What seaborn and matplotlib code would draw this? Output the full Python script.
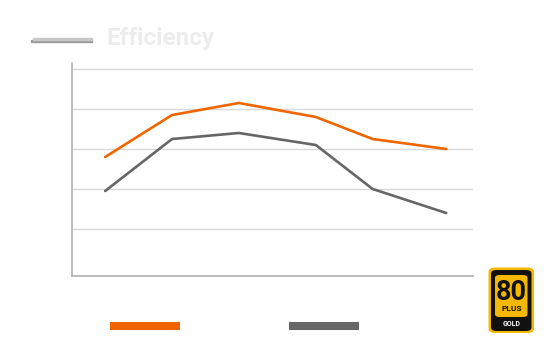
import matplotlib.pyplot as plt
import pandas as pd
import seaborn as sns
from matplotlib.patches import FancyBboxPatch, Rectangle
from matplotlib.lines import Line2D

# load points (arbitrary units) and efficiency (%)
load = [10, 30, 50, 73, 90, 112]
eff_orange = [87.6, 89.7, 90.3, 89.6, 88.5, 88.0]
eff_gray = [85.9, 88.5, 88.8, 88.2, 86.0, 84.8]
series = ["A", "B"]
colors = ["#ef6600", "#666666"]
grid_vals = [84, 86, 88, 90, 92]

df = pd.DataFrame({
    "load": load * 2,
    "eff": eff_orange + eff_gray,
    "series": [series[0]] * len(load) + [series[1]] * len(load),
})

sns.set_style("white")
fig = plt.figure(figsize=(5.5, 3.6), dpi=100)
ax = fig.add_axes([0.1304, 0.2333, 0.7296, 0.5917])

for v in grid_vals:
    ax.axhline(v, color="#d9d9d9", lw=1, zorder=0)

sns.lineplot(data=df, x="load", y="eff", hue="series", palette=colors,
             linewidth=1.9, legend=False, ax=ax)

ax.set_xlim(0, 120)
ax.set_ylim(81.65, 92.3)
ax.set_xticks([])
ax.set_yticks([])
ax.set_xlabel("")
ax.set_ylabel("")
for s in ["top", "right"]:
    ax.spines[s].set_visible(False)
for s in ["left", "bottom"]:
    ax.spines[s].set_color("#b0b0b0")
    ax.spines[s].set_linewidth(1.2)

# legend bars without text
handles = [Line2D([], [], color=c, lw=5.8, solid_capstyle="butt") for c in colors]
fig.legend(handles, ["", ""], loc="center", bbox_to_anchor=(0.4264, 0.091),
           ncol=2, frameon=False, handlelength=5.04, columnspacing=7.85,
           handletextpad=0)

# title with decorative bar
fig.text(106 / 550, 1 - 39 / 360, "Efficiency", fontsize=17.5, fontweight="bold",
         color="#ececec", va="center", ha="left", family="Roboto")
fig.patches.append(Rectangle((31 / 550, 1 - 42 / 360), 61 / 550, 2 / 360,
                             transform=fig.transFigure, color="#9a9a9a"))
fig.patches.append(Rectangle((33 / 550, 1 - 40 / 360), 59 / 550, 2.5 / 360,
                             transform=fig.transFigure, color="#c8c8c8"))

# 80 PLUS GOLD badge
def px(x, y):
    return x / 550, 1 - y / 360

gold = "#f4b800"
x0, y0 = px(488.5, 333)
fig.patches.append(FancyBboxPatch((x0, y0), 45.5 / 550, 65.5 / 360,
                                  boxstyle="round,pad=0,rounding_size=0.012",
                                  transform=fig.transFigure, fc=gold, ec="none"))
x0, y0 = px(491, 331)
fig.patches.append(FancyBboxPatch((x0, y0), 40.5 / 550, 61 / 360,
                                  boxstyle="round,pad=0,rounding_size=0.01",
                                  transform=fig.transFigure, fc="#111111", ec="none"))
x0, y0 = px(495, 317)
fig.patches.append(FancyBboxPatch((x0, y0), 32.5 / 550, 42 / 360,
                                  boxstyle="round,pad=0,rounding_size=0.008",
                                  transform=fig.transFigure, fc=gold, ec="none"))
fig.text(*px(511.5, 300), "80", fontsize=19.5, fontweight="bold", color="#111111",
         ha="center", va="baseline", family="Roboto")
fig.text(*px(511.5, 311), "PLUS", fontsize=6, fontweight="bold", color="#111111",
         ha="center", va="baseline", family="Roboto")
fig.text(*px(511.5, 326.5), "GOLD", fontsize=5, fontweight="bold", color="white",
         ha="center", va="baseline", family="Roboto")

fig.savefig("out.png", dpi=100)
